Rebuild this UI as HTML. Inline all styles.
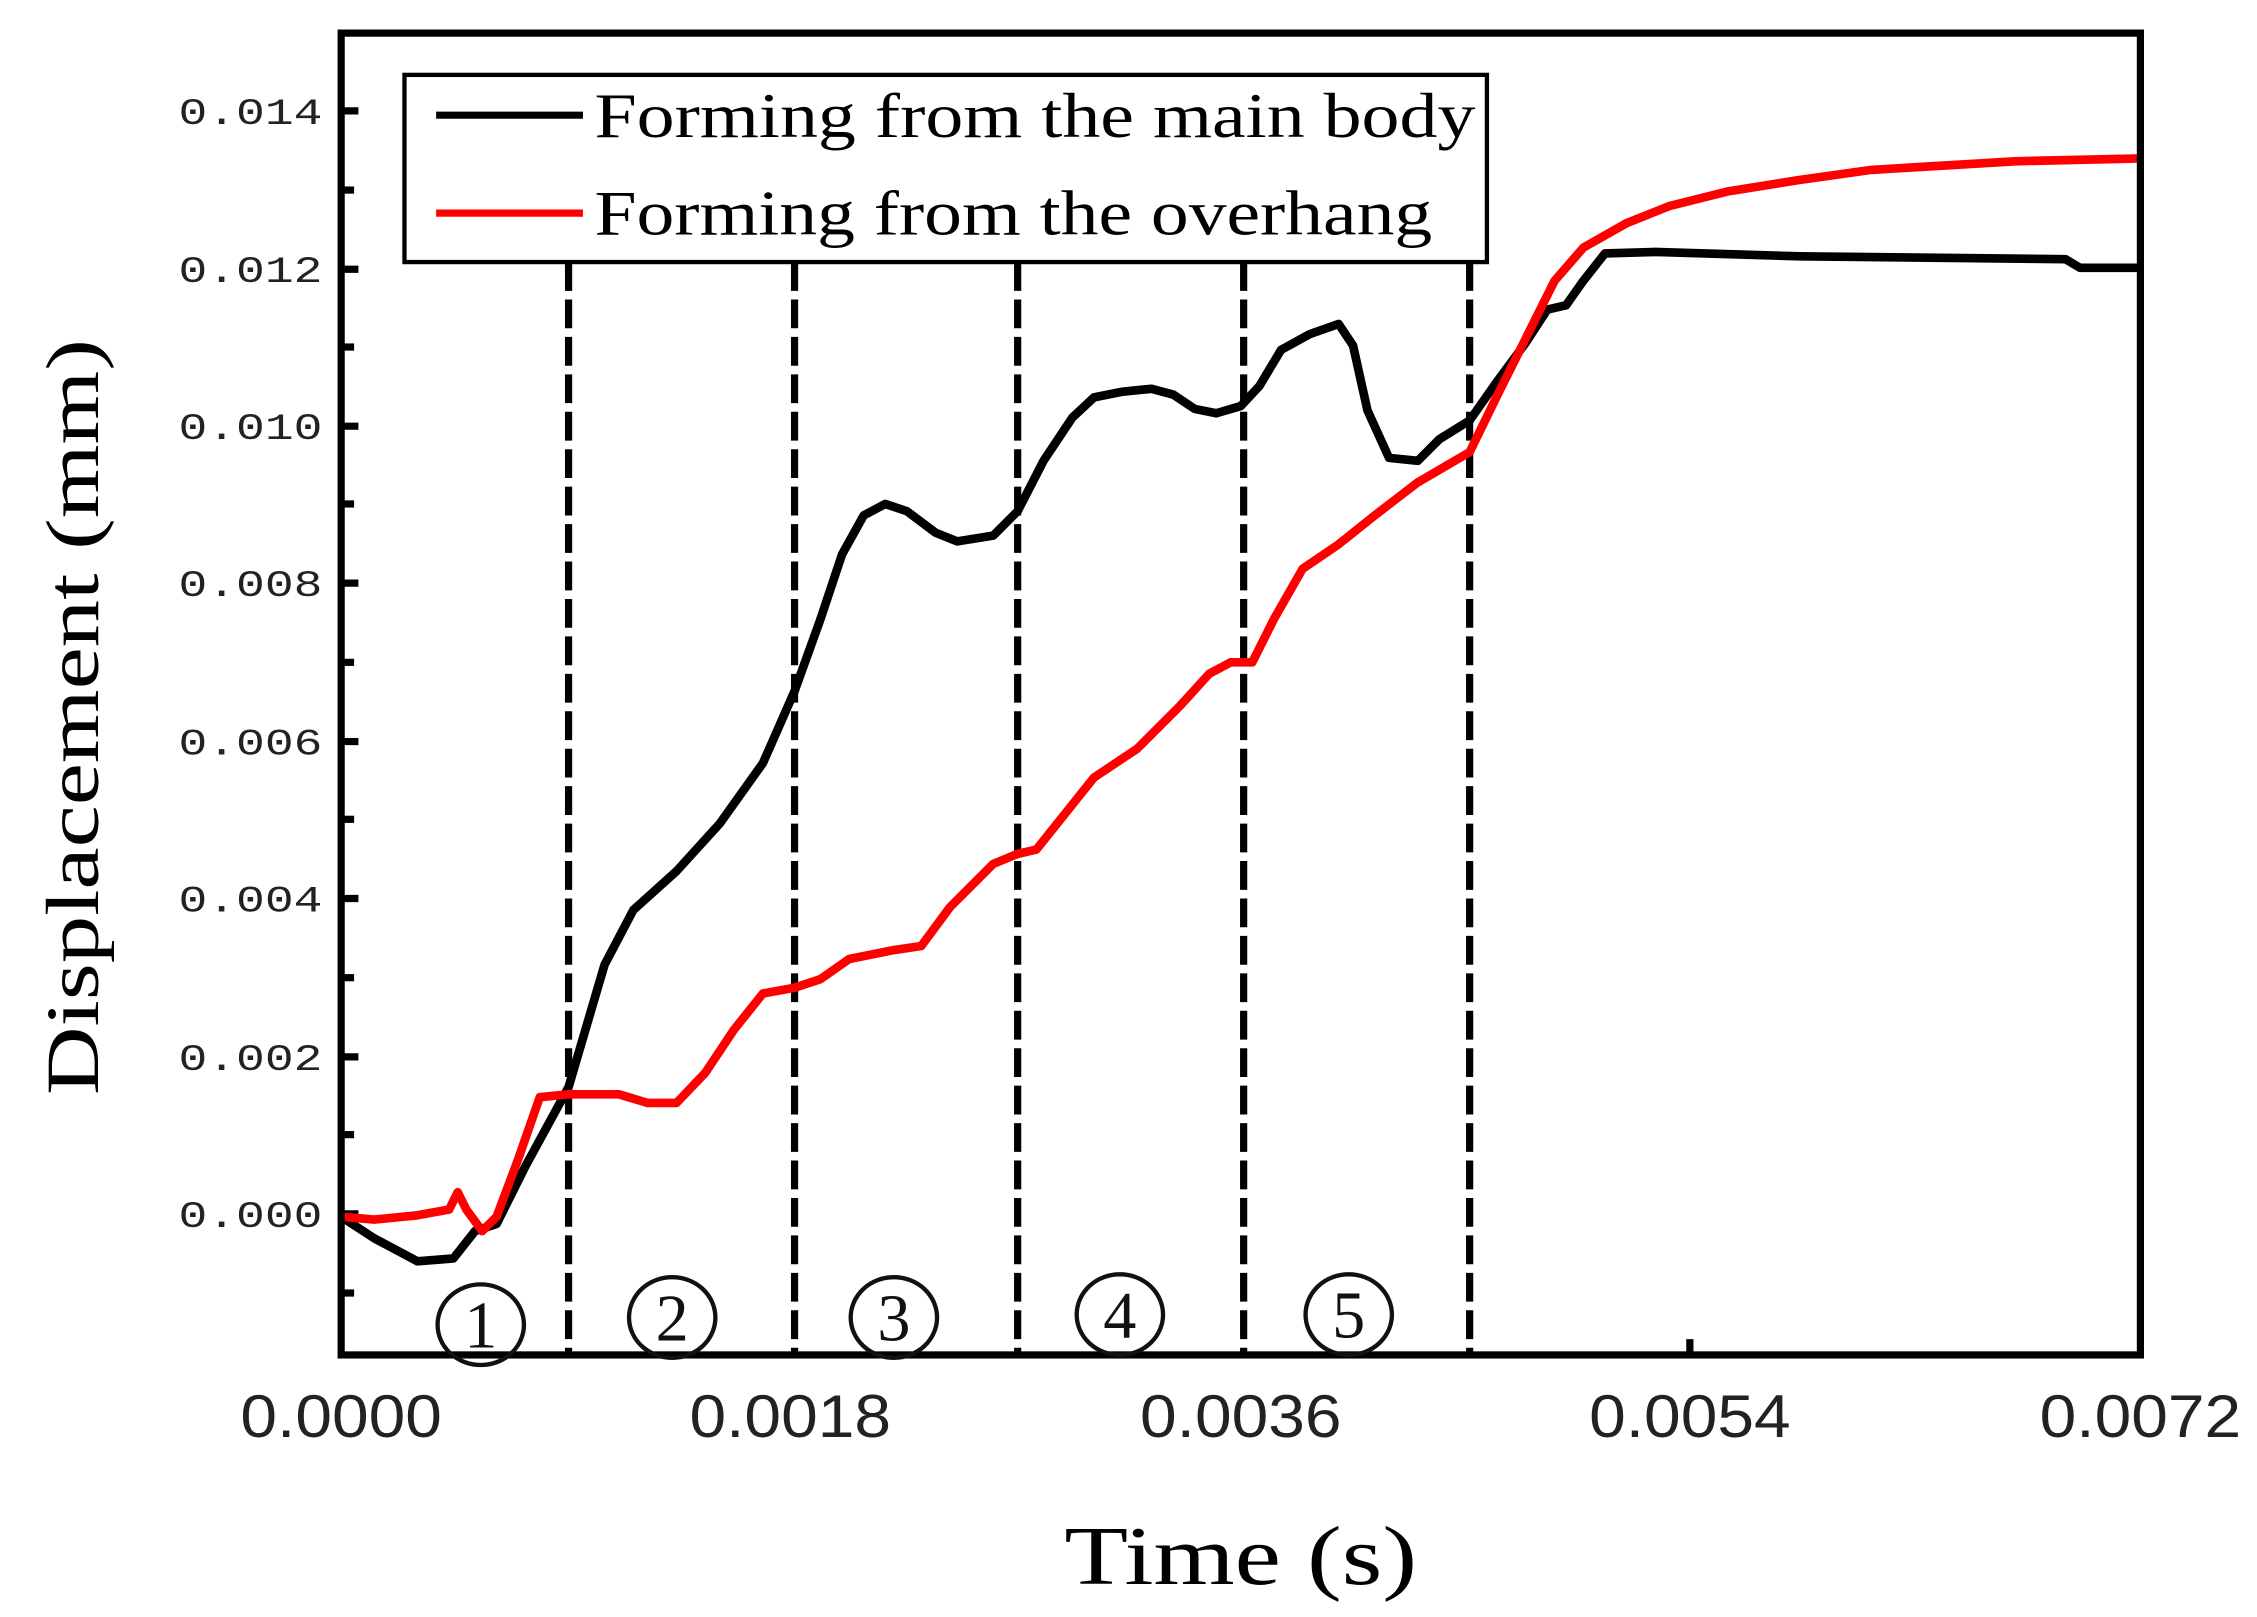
<!DOCTYPE html>
<html><head><meta charset="utf-8"><style>html,body{margin:0;padding:0;background:#fff}svg{display:block}</style></head>
<body>
<svg width="2257" height="1617" viewBox="0 0 1568 1123" preserveAspectRatio="none" xmlns="http://www.w3.org/2000/svg">
<rect width="1568" height="1123" fill="#fff"/>
<g stroke="#000" stroke-width="5" stroke-dasharray="20,6">
<line x1="395" y1="182" x2="395" y2="941"/>
<line x1="552" y1="182" x2="552" y2="941"/>
<line x1="707" y1="182" x2="707" y2="941"/>
<line x1="864" y1="182" x2="864" y2="941"/>
<line x1="1021" y1="182" x2="1021" y2="941"/>
</g>
<g stroke="#000" stroke-width="5">
<line x1="237" y1="77" x2="249" y2="77"/><line x1="237" y1="132" x2="246" y2="132"/>
<line x1="237" y1="187" x2="249" y2="187"/><line x1="237" y1="241" x2="246" y2="241"/>
<line x1="237" y1="296" x2="249" y2="296"/><line x1="237" y1="350" x2="246" y2="350"/>
<line x1="237" y1="405" x2="249" y2="405"/><line x1="237" y1="460" x2="246" y2="460"/>
<line x1="237" y1="515" x2="249" y2="515"/><line x1="237" y1="569" x2="246" y2="569"/>
<line x1="237" y1="624" x2="249" y2="624"/><line x1="237" y1="679" x2="246" y2="679"/>
<line x1="237" y1="734" x2="249" y2="734"/><line x1="237" y1="788" x2="246" y2="788"/>
<line x1="237" y1="843" x2="249" y2="843"/><line x1="237" y1="898" x2="246" y2="898"/>
<line x1="1174" y1="941" x2="1174" y2="930"/>
</g>
<polyline fill="none" stroke="#000" stroke-width="6" stroke-linejoin="round" points="237,845 260,860 290,876 315,874 330,855 345,850 365,810 395,755 420,670 440,632 470,605 500,572 530,530 552,480 570,430 585,385 600,358 615,350 630,355 650,370 665,376 690,372 707,355 725,320 745,290 760,276 780,272 800,270 815,274 830,284 845,287 862,282 875,268 890,243 910,232 930,225 940,240 950,285 965,318 985,320 1000,305 1021,292 1040,265 1060,238 1075,215 1088,212 1100,195 1115,176 1150,175 1250,178 1435,180 1445,186 1487,186"/>
<polyline fill="none" stroke="#f00" stroke-width="6" stroke-linejoin="round" points="237,845 260,847 290,844 312,840 318,828 324,840 335,855 345,845 360,805 375,762 395,760 430,760 450,766 470,766 490,745 510,715 530,690 552,686 570,680 590,666 620,660 640,657 660,630 690,600 707,593 720,590 740,565 760,540 790,520 820,490 840,468 855,460 870,460 885,430 905,395 930,378 955,358 985,335 1021,314 1040,275 1060,235 1080,195 1100,172 1130,155 1160,143 1200,133 1250,125 1300,118 1400,112 1487,110"/>
<rect x="237" y="23" width="1250" height="918" fill="none" stroke="#000" stroke-width="5"/>
<rect x="281" y="52" width="752" height="130" fill="#fff" stroke="#000" stroke-width="3"/>
<line x1="303" y1="80" x2="405" y2="80" stroke="#000" stroke-width="5"/>
<line x1="303" y1="148" x2="405" y2="148" stroke="#f00" stroke-width="5"/>
<g font-family="Liberation Serif, serif" font-size="44" fill="#000">
<text x="413" y="95" textLength="612" lengthAdjust="spacingAndGlyphs">Forming from the main body</text>
<text x="413" y="163" textLength="582" lengthAdjust="spacingAndGlyphs">Forming from the overhang</text>
</g>
<g font-family="Liberation Mono, monospace" font-size="26" fill="#222" text-anchor="end">
<text x="224" y="86" textLength="100" lengthAdjust="spacingAndGlyphs">0.014</text>
<text x="224" y="196" textLength="100" lengthAdjust="spacingAndGlyphs">0.012</text>
<text x="224" y="305" textLength="100" lengthAdjust="spacingAndGlyphs">0.010</text>
<text x="224" y="414" textLength="100" lengthAdjust="spacingAndGlyphs">0.008</text>
<text x="224" y="524" textLength="100" lengthAdjust="spacingAndGlyphs">0.006</text>
<text x="224" y="633" textLength="100" lengthAdjust="spacingAndGlyphs">0.004</text>
<text x="224" y="743" textLength="100" lengthAdjust="spacingAndGlyphs">0.002</text>
<text x="224" y="852" textLength="100" lengthAdjust="spacingAndGlyphs">0.000</text>
</g>
<g font-family="Liberation Sans, sans-serif" font-size="42" fill="#222" text-anchor="middle">
<text x="237" y="998" textLength="140" lengthAdjust="spacingAndGlyphs">0.0000</text>
<text x="549" y="998" textLength="140" lengthAdjust="spacingAndGlyphs">0.0018</text>
<text x="862" y="998" textLength="140" lengthAdjust="spacingAndGlyphs">0.0036</text>
<text x="1174" y="998" textLength="140" lengthAdjust="spacingAndGlyphs">0.0054</text>
<text x="1487" y="998" textLength="140" lengthAdjust="spacingAndGlyphs">0.0072</text>
</g>
<g fill="none" stroke="#111" stroke-width="3">
<ellipse cx="334" cy="920" rx="30" ry="28"/>
<ellipse cx="467" cy="915" rx="30" ry="28"/>
<ellipse cx="621" cy="915" rx="30" ry="28"/>
<ellipse cx="778" cy="913" rx="30" ry="28"/>
<ellipse cx="937" cy="913" rx="30" ry="28"/>
</g>
<g font-family="Liberation Serif, serif" font-size="46" fill="#111" text-anchor="middle">
<text x="334" y="936">1</text><text x="467" y="931">2</text><text x="621" y="931">3</text><text x="778" y="929">4</text><text x="937" y="929">5</text>
</g>
<text x="862" y="1100" font-family="Liberation Serif, serif" font-size="58" text-anchor="middle" textLength="245" lengthAdjust="spacingAndGlyphs">Time (s)</text>
<text transform="translate(68,498) rotate(-90)" font-family="Liberation Serif, serif" font-size="52" text-anchor="middle" textLength="525" lengthAdjust="spacingAndGlyphs">Displacement (mm)</text>
</svg>
</body></html>
